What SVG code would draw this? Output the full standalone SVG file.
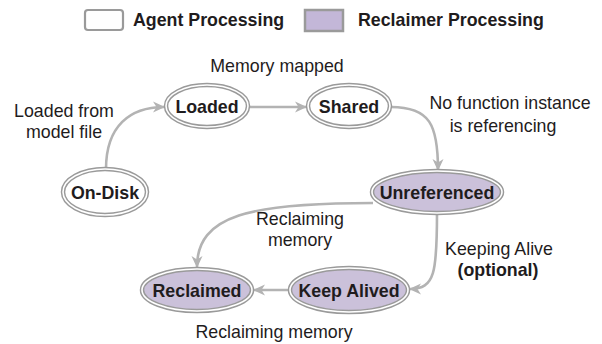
<svg xmlns="http://www.w3.org/2000/svg" width="602" height="344" viewBox="0 0 602 344">
<defs>
<style>
text{font-family:"Liberation Sans",Arial,sans-serif;font-size:17.8px;fill:#1f1c1d}
.b{font-weight:bold}
.m{text-anchor:middle}
.o{stroke:#9a9a9a;stroke-width:4.5}
.i{fill:none;stroke:#ffffff;stroke-width:1.6}
.w{fill:#ffffff}
.p{fill:#cbc1da}
.c{fill:none;stroke:#b3b3b3;stroke-width:2.6}
</style>
<marker id="a" viewBox="0 0 12 12" refX="11" refY="6" markerWidth="12" markerHeight="12" orient="auto" markerUnits="userSpaceOnUse">
<path d="M0,0.5 L12,6 L0,11.5 L3.5,6 Z" fill="#b3b3b3"/>
</marker>
</defs>
<g id="legend">
<rect x="85" y="10" width="38" height="20" rx="3" fill="#fff" stroke="#9a9a9a" stroke-width="2.2"/>
<text class="b" x="133" y="26">Agent Processing</text>
<rect x="305" y="10" width="38" height="21" fill="#c3b7d8" stroke="#9a9a9a" stroke-width="2.5"/>
<text class="b" x="358" y="26">Reclaimer Processing</text>
</g>
<g id="connectors">
<path class="c" d="M106,169 C106,126 130,107 164,107" marker-end="url(#a)"/>
<path class="c" d="M249,107 L306,107" marker-end="url(#a)"/>
<path class="c" d="M391,107 C430,107 438,125 438,170" marker-end="url(#a)"/>
<path class="c" d="M373,203 C250,203 197,215 197,267" marker-end="url(#a)"/>
<path class="c" d="M437,213 C437,272 435,289 410,289" marker-end="url(#a)"/>
<path class="c" d="M289,290 L254,290" marker-end="url(#a)"/>
</g>
<g id="ondisk">
<ellipse class="o w" cx="105" cy="192" rx="42" ry="23"/>
<ellipse class="i" cx="105" cy="192" rx="42" ry="23"/>
<text class="b m" x="105" y="199">On-Disk</text>
</g>
<g id="loaded">
<ellipse class="o w" cx="207" cy="106" rx="41" ry="21"/>
<ellipse class="i" cx="207" cy="106" rx="41" ry="21"/>
<text class="b m" x="207" y="113">Loaded</text>
</g>
<g id="shared">
<ellipse class="o w" cx="349" cy="106" rx="41" ry="21"/>
<ellipse class="i" cx="349" cy="106" rx="41" ry="21"/>
<text class="b m" x="349" y="113">Shared</text>
</g>
<g id="unreferenced">
<ellipse class="o p" cx="437" cy="192" rx="65" ry="21"/>
<ellipse class="i" cx="437" cy="192" rx="65" ry="21"/>
<text class="b m" x="437" y="199">Unreferenced</text>
</g>
<g id="reclaimed">
<ellipse class="o p" cx="197" cy="290" rx="55" ry="21"/>
<ellipse class="i" cx="197" cy="290" rx="55" ry="21"/>
<text class="b m" x="197" y="297">Reclaimed</text>
</g>
<g id="keepalived">
<ellipse class="o p" cx="349" cy="290" rx="59" ry="22"/>
<ellipse class="i" cx="349" cy="290" rx="59" ry="22"/>
<text class="b m" x="349" y="297">Keep Alived</text>
</g>
<g id="labels">
<text class="m" x="277" y="72">Memory mapped</text>
<text class="m" x="64" y="117">Loaded from</text>
<text class="m" x="64" y="138">model file</text>
<text class="m" x="510" y="109">No function instance</text>
<text class="m" x="503" y="132">is referencing</text>
<text class="m" x="300" y="225">Reclaiming</text>
<text class="m" x="300" y="246">memory</text>
<text class="m" x="499" y="255">Keeping Alive</text>
<text class="b m" x="498" y="276">(optional)</text>
<text class="m" x="274" y="338">Reclaiming memory</text>
</g>
</svg>
